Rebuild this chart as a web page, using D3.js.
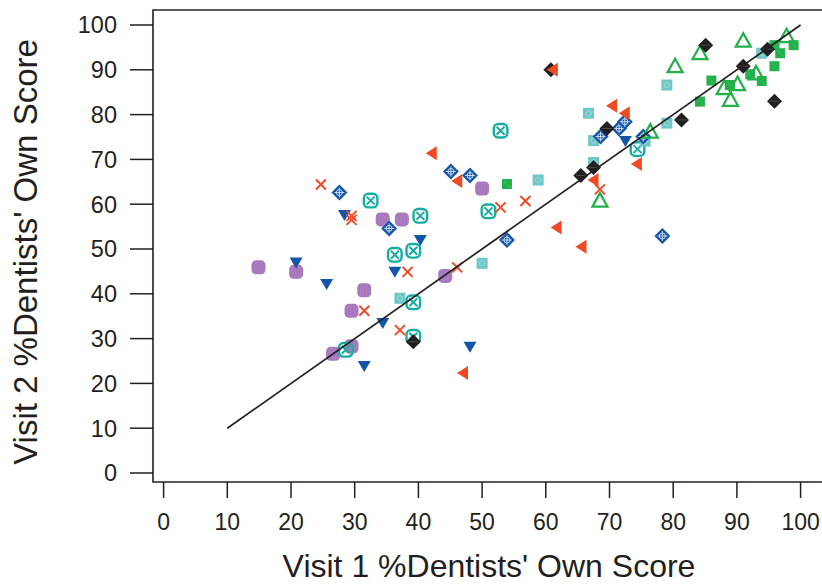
<!DOCTYPE html>
<html>
<head>
<meta charset="utf-8">
<title>Visit 1 vs Visit 2 dentists' own score</title>
<script src="https://cdnjs.cloudflare.com/ajax/libs/d3/7.8.5/d3.min.js"></script>
<style>
  html, body { margin: 0; padding: 0; background: #fff; }
  svg { display: block; font-family: "Liberation Sans", Arial, sans-serif; }
</style>
</head>
<body>
<svg id="chart" width="822" height="585"></svg>
<script>
// values, [visit1, visit2]
var purpleRound = [[14.9,45.9],[20.8,44.9],[34.4,56.6],[37.4,56.6],[31.5,40.8],[29.5,36.2],[29.5,28.3],[26.6,26.6],[44.2,44.0],[50.0,63.5]];
var tealBoxX = [[32.5,60.8],[36.3,48.7],[28.6,27.5],[52.9,76.4],[51.0,58.4],[40.3,57.4],[39.2,49.6],[39.2,38.1],[39.2,30.4],[74.4,72.3]];
var lightTeal = [[37.1,39.0],[50.0,46.8],[58.8,65.4],[67.5,69.3],[67.5,74.2],[66.7,80.3],[79.0,86.6],[79.0,78.1],[75.6,74.1],[93.9,93.7]];
var blueTri = [[28.4,57.6],[36.3,44.9],[20.8,47.0],[25.6,42.2],[34.4,33.5],[31.5,23.9],[40.3,52.0],[48.1,28.2],[72.5,74.1]];
var blueDiamond = [[27.6,62.6],[35.4,54.6],[45.1,67.3],[48.1,66.4],[53.9,52.0],[68.6,75.1],[71.5,76.9],[72.4,78.4],[75.3,75.1],[78.3,52.9]];
var greenSquare = [[53.9,64.5],[84.2,82.9],[86.0,87.6],[95.9,95.5],[98.9,95.5],[96.8,93.7],[95.9,90.8],[92.1,89.0],[93.9,87.5],[88.9,86.6]];
var greenTri = [[68.5,60.8],[76.4,76.2],[80.3,90.8],[84.2,93.7],[91.0,96.5],[97.8,97.5],[93.0,89.2],[88.0,85.9],[90.1,86.8],[89.0,83.3]];
var blackDiamond = [[39.2,29.3],[60.8,90.0],[65.5,66.4],[67.5,68.2],[69.6,76.9],[81.3,78.8],[85.1,95.5],[94.8,94.6],[91.0,90.8],[95.9,83.0]];
var redX = [[24.7,64.4],[29.5,57.4],[29.5,56.5],[31.5,36.2],[37.1,31.9],[38.3,44.9],[46.1,45.9],[52.9,59.3],[56.8,60.7],[68.5,63.3]];
var redTri = [[42.1,71.4],[46.1,65.2],[61.7,54.8],[65.6,50.5],[47.0,22.3],[61.1,90.0],[70.4,82.0],[72.4,80.3],[67.5,65.4],[74.3,69.0]];

var fitLine = [[10,10],[100,100]];
var xTicks = [0,10,20,30,40,50,60,70,80,90,100];
var yTicks = [0,10,20,30,40,50,60,70,80,90,100];

var svg = d3.select('#chart');

var x = d3.scaleLinear().domain([0, 100]).range([163.6, 800.6]);
var y = d3.scaleLinear().domain([0, 100]).range([473, 25]);

var boxLeft = 153, boxTop = 10, boxBottom = 482, boxRight = 824;

// texture for the purple markers
var defs = svg.append('defs');
var pat = defs.append('pattern')
    .attr('id', 'purpleTex')
    .attr('patternUnits', 'userSpaceOnUse')
    .attr('width', 3).attr('height', 6);
pat.append('rect').attr('width', 3).attr('height', 6).attr('fill', '#ad80c1');
pat.append('path').attr('d', 'M1,0 Q2,1.5 1,3 Q0,4.5 1,6')
    .attr('stroke', '#9b6bb2').attr('stroke-width', 0.9).attr('fill', 'none');

// frame
svg.append('path')
    .attr('d', 'M' + boxRight + ',' + boxTop + 'H' + boxLeft + 'V' + boxBottom + 'H' + boxRight)
    .attr('fill', 'none').attr('stroke', '#231f20').attr('stroke-width', 1.6);

// ticks
var gx = svg.append('g');
gx.selectAll('line').data(xTicks).enter().append('line')
    .attr('x1', d => x(d)).attr('x2', d => x(d))
    .attr('y1', boxBottom).attr('y2', 498)
    .attr('stroke', '#231f20').attr('stroke-width', 1.5);
gx.selectAll('text').data(xTicks).enter().append('text')
    .attr('x', d => x(d)).attr('y', 530)
    .attr('text-anchor', 'middle')
    .attr('font-size', 23).attr('fill', '#231f20')
    .text(d => d);

var gy = svg.append('g');
gy.selectAll('line').data(yTicks).enter().append('line')
    .attr('x1', 130).attr('x2', boxLeft)
    .attr('y1', d => y(d)).attr('y2', d => y(d))
    .attr('stroke', '#231f20').attr('stroke-width', 1.5);
gy.selectAll('text').data(yTicks).enter().append('text')
    .attr('x', 117).attr('y', d => y(d))
    .attr('dy', '0.36em')
    .attr('text-anchor', 'end')
    .attr('font-size', 23.5).attr('fill', '#231f20')
    .text(d => d);

// axis titles
svg.append('text')
    .attr('x', 489).attr('y', 577)
    .attr('text-anchor', 'middle')
    .attr('font-size', 32).attr('fill', '#231f20')
    .text("Visit 1 %Dentists' Own Score");
svg.append('text')
    .attr('transform', 'translate(37,252) rotate(-90)')
    .attr('text-anchor', 'middle')
    .attr('font-size', 33).attr('fill', '#231f20')
    .text("Visit 2 %Dentists' Own Score");

// marker painters
function place(data, cls) {
  return svg.append('g').selectAll('g.' + cls).data(data).enter().append('g')
      .attr('class', cls)
      .attr('transform', d => 'translate(' + x(d[0]) + ',' + y(d[1]) + ')');
}

var purple = place(purpleRound, 'pr');
purple.append('rect').attr('x', -7).attr('y', -7).attr('width', 14).attr('height', 14)
    .attr('rx', 4.5).attr('fill', 'url(#purpleTex)');

var tb = place(tealBoxX, 'tb');
tb.append('rect').attr('x', -6.8).attr('y', -6.8).attr('width', 13.6).attr('height', 13.6)
    .attr('rx', 4.5).attr('fill', 'none').attr('stroke', '#17ada2').attr('stroke-width', 2.4);
tb.append('path').attr('d', 'M-4,-4L4,4M-4,4L4,-4')
    .attr('stroke', '#17ada2').attr('stroke-width', 2);

var lt = place(lightTeal, 'lt');
lt.append('rect').attr('x', -5.5).attr('y', -5.5).attr('width', 11).attr('height', 11)
    .attr('fill', '#6ec6c7');
lt.append('circle').attr('r', 2.6).attr('fill', 'none')
    .attr('stroke', '#e8f7f7').attr('stroke-width', 0.8).attr('stroke-dasharray', '1,1');

var bt = place(blueTri, 'bt');
bt.append('path').attr('d', 'M-6.5,-5L6.5,-5L0,6Z').attr('fill', '#1555a6');

var bd = place(blueDiamond, 'bd');
bd.append('path').attr('d', 'M0,-8L8,0L0,8L-8,0Z').attr('fill', '#1555a6');
bd.append('path').attr('d', 'M-5,0H5M0,-5V5').attr('stroke', '#d9e4f2').attr('stroke-width', 0.9);
bd.append('circle').attr('r', 3).attr('fill', 'none').attr('stroke', '#d9e4f2').attr('stroke-width', 0.9);

var gs = place(greenSquare, 'gs');
gs.append('rect').attr('x', -5).attr('y', -5).attr('width', 10).attr('height', 10).attr('fill', '#22b04b');
gs.append('path').attr('d', 'M-4,-4L4,4').attr('stroke', '#4cc06d').attr('stroke-width', 0.8);

var gt = place(greenTri, 'gt');
gt.append('path').attr('d', 'M0,-7.5L7.5,6L-7.5,6Z')
    .attr('fill', 'none').attr('stroke', '#22b04b').attr('stroke-width', 2.2);

var bk = place(blackDiamond, 'bk');
bk.append('path').attr('d', 'M0,-7.5L7.5,0L0,7.5L-7.5,0Z').attr('fill', '#231f20');
bk.append('path').attr('d', 'M-5,0H5').attr('stroke', '#555').attr('stroke-width', 0.8);

var rx = place(redX, 'rx');
rx.append('path').attr('d', 'M-5,-5L5,5M-5,5L5,-5')
    .attr('stroke', '#f04a24').attr('stroke-width', 2);

var rt = place(redTri, 'rt');
rt.append('path').attr('d', 'M-6,0L5,-7L5,7Z').attr('fill', '#f04a24');

// fitted line
var line = d3.line().x(d => x(d[0])).y(d => y(d[1]));
svg.append('path')
    .datum(fitLine)
    .attr('d', line)
    .attr('fill', 'none')
    .attr('stroke', '#231f20')
    .attr('stroke-width', 1.7);
</script>
</body>
</html>
